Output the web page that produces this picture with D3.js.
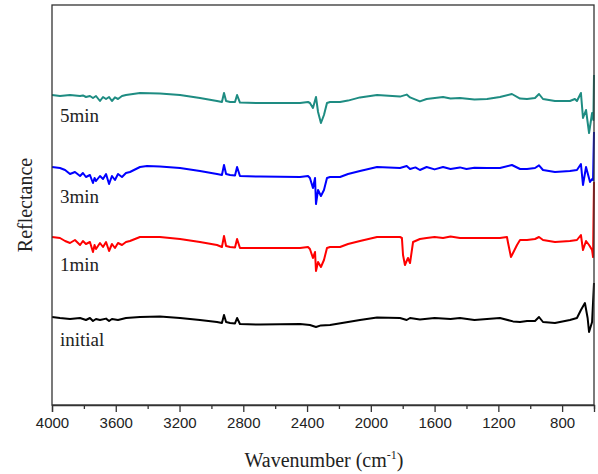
<head>
    <meta charset="utf-8">
    <title>Reflectance spectra</title>
    <script src="https://cdn.jsdelivr.net/npm/d3@7/dist/d3.min.js"></script>
</head>

<body style="margin:0">
<svg id="chart" width="598" height="474"></svg>

<script type="text/javascript">
    /// x tick labels
    const majorTicks = [4000, 3600, 3200, 2800, 2400, 2000, 1600, 1200, 800];
    const minorTicks = [3800, 3400, 3000, 2600, 2200, 1800, 1400, 1000, 600];

    /// [wavenumber, reflectance (offset, a.u.)]
    const min5 = [[4000,77.5],[3950,77.25],[3887,77.5],[3824,77.25],[3806,77.4],[3787,77],[3762,77.25],[3743,76.75],
        [3724,77.25],[3699,76],[3680,77],[3661,76.5],[3642,77],[3624,76],[3605,76.9],[3586,76.5],[3561,77.25],
        [3536,77.5],[3448,78],[3323,77.9],[3197,77.5],[3072,76.75],[2965,76],[2934,75.75],[2921,78],[2908,76],
        [2883,75.75],[2852,75.75],[2839,77.5],[2821,75.6],[2695,75.5],[2444,75.5],[2394,75.75],[2382,75.5],
        [2363,74.25],[2344,77],[2331,73.25],[2313,70.5],[2294,72.5],[2275,75.5],[2256,75.75],[2193,75.75],
        [2143,76.1],[2068,76.9],[1961,77.5],[1817,77.1],[1775,77.6],[1754,76.9],[1692,75.9],[1650,76.5],
        [1547,77],[1500,76.6],[1441,76.75],[1350,76.4],[1271,76.5],[1190,77],[1115,77.75],[1064,76.6],
        [1020,76.5],[970,76.75],[945,77.75],[920,76.5],[845,76],[751,76],[720,76.5],[707,76],[682,78],
        [669,71.75],[650,73.75],[631,68],[612,73],[604,71.25],[600,82.5]];

    const min3 = [[4000,59.5],[3950,59.25],[3918,58.75],[3887,57.75],[3856,58.25],[3824,57.25],[3806,58],[3787,57],
        [3762,57.5],[3743,55.5],[3733,56.75],[3724,56],[3699,57.25],[3680,56.5],[3661,57.75],[3642,55.25],
        [3624,57.25],[3605,56.25],[3586,57.75],[3561,57],[3536,58],[3511,58.25],[3448,59.5],[3404,59.75],
        [3323,59.6],[3197,59.25],[3072,58.5],[2965,57.75],[2934,57.5],[2921,60],[2908,57.75],[2883,57.5],
        [2852,57.4],[2839,59.5],[2821,57.25],[2695,57.1],[2444,57],[2394,57.25],[2382,56.75],[2363,54.25],
        [2350,56.75],[2344,50.25],[2331,53.75],[2313,52.25],[2294,53.75],[2275,56.75],[2256,57],[2193,57],
        [2143,57.75],[2068,58.5],[1961,59.5],[1817,59.25],[1775,59.75],[1754,59],[1720,59.4],[1692,58.75],
        [1650,59.5],[1600,58.9],[1547,59.5],[1500,59],[1441,59.4],[1400,59],[1350,59.3],[1271,59.25],
        [1190,59.25],[1115,60],[1064,59],[1020,59],[970,59.25],[945,59.9],[920,58.75],[845,58.25],[751,58.5],
        [707,58.75],[682,60.25],[669,55],[650,59.5],[625,55.75],[612,56.5],[606,56.25],[600,68.25]];

    const min1 = [[4000,42],[3950,41.75],[3918,41],[3887,40.5],[3856,41.25],[3824,40],[3806,41],[3787,40.25],
        [3762,40.75],[3743,38.25],[3733,40],[3724,39],[3699,40.5],[3680,39.5],[3661,40.75],[3642,38.5],
        [3624,40.25],[3605,39.25],[3586,40.5],[3561,40],[3536,40.75],[3511,41],[3448,42],[3323,42],
        [3197,41.5],[3072,40.75],[2965,40],[2934,39.5],[2921,42.25],[2908,39.75],[2883,39.5],[2852,39.4],
        [2839,41.5],[2821,39.25],[2695,39.25],[2444,39.25],[2394,39.5],[2382,39],[2363,36.75],[2350,38.25],
        [2344,33.5],[2331,35.75],[2313,34.5],[2294,36.25],[2275,39.25],[2256,39.5],[2193,39.5],[2143,40.25],
        [2068,41],[1961,42],[1817,42],[1805,41.75],[1798,37.5],[1786,35],[1767,36.75],[1754,35.5],
        [1735,40.75],[1692,41.5],[1650,41.75],[1600,42],[1547,41.75],[1500,42.1],[1441,41.75],[1350,41.75],
        [1271,41.75],[1190,41.75],[1146,42],[1139,40.5],[1121,37],[1108,38],[1083,40],[1064,41.25],
        [1020,41.25],[970,41.5],[945,42],[920,41.25],[845,40.75],[751,41],[707,41.25],[682,42.5],
        [669,38.75],[650,41],[631,40],[612,38.75],[606,37],[600,55.75]];

    const initial = [[4000,22],[3950,21.75],[3887,21.5],[3824,21.75],[3787,21.25],[3762,21.75],[3743,21],
        [3724,21.5],[3699,21.25],[3661,21.6],[3642,21],[3624,21.5],[3586,21.25],[3536,21.75],[3448,22],
        [3323,22.1],[3197,21.75],[3072,21.25],[2965,20.75],[2934,20.5],[2921,22.5],[2908,20.75],[2883,20.5],
        [2852,20.4],[2839,21.75],[2821,20.25],[2695,20.1],[2444,20.25],[2382,20],[2344,19.5],[2313,19.9],
        [2256,20],[2143,20.75],[2068,21.25],[1961,21.9],[1817,21.75],[1775,21.25],[1754,21.75],[1692,21.4],
        [1600,21.75],[1500,21.5],[1441,21.75],[1350,21.25],[1271,21.5],[1190,21.75],[1108,20.9],[1064,20.75],
        [1020,21],[970,21],[945,22],[920,20.75],[845,20.5],[751,21.25],[707,21.75],[682,23.75],[657,25.5],
        [640,21.75],[631,18.25],[612,20.75],[600,30.5]];

    const seriesNames = ['initial', '1min', '3min', '5min'];
    const seriesData = [initial, min1, min3, min5];
    const seriesColors = ['#000000', '#ff0000', '#0000ff', '#1e8c82'];
    const labelLevels = [14.75, 33.5, 50.5, 70.75]; /// where each label sits (same units as reflectance)

    const margin = {left: 52, right: 4, top: 5, bottom: 69};
    const W = 598, H = 474;

    const svg = d3.select('#chart');

    const x = d3.scaleLinear()
        .domain([4000, 600])
        .range([margin.left, W - margin.right]);
    const y = d3.scaleLinear()
        .domain([0, 100])
        .range([H - margin.bottom, margin.top]);

    /// curves
    const line = d3.line()
        .x(d => x(d[0]))
        .y(d => y(d[1]));

    svg.selectAll('path.spec')
        .data(seriesData)
        .join('path')
        .attr('class', 'spec')
        .attr('fill', 'none')
        .attr('stroke', (d, i) => seriesColors[i])
        .attr('stroke-width', 2)
        .attr('stroke-linejoin', 'round')
        .attr('d', line);

    /// frame
    svg.append('rect')
        .attr('x', x(4000))
        .attr('y', y(100))
        .attr('width', x(600) - x(4000))
        .attr('height', y(0) - y(100))
        .attr('fill', 'none')
        .attr('stroke', '#333')
        .attr('stroke-width', 1.3);

    /// x axis, major + minor ticks
    const xAxis = svg.append('g')
        .attr('transform', `translate(0, ${y(0)})`)
        .call(d3.axisBottom(x).tickValues(majorTicks).tickSize(7).tickPadding(5).tickFormat(d3.format('d')));
    xAxis.select('.domain').attr('stroke', '#333').attr('stroke-width', 1.3);
    xAxis.selectAll('.tick line').attr('stroke', '#333').attr('stroke-width', 1.3);
    xAxis.selectAll('.tick text')
        .style('font-family', '"Liberation Sans", Arial, sans-serif')
        .style('font-size', '15px')
        .attr('fill', '#222');

    svg.append('g')
        .attr('transform', `translate(0, ${y(0)})`)
        .call(d3.axisBottom(x).tickValues(minorTicks).tickSize(4).tickFormat(''))
        .call(g => g.select('.domain').remove())
        .selectAll('.tick line').attr('stroke', '#333').attr('stroke-width', 1.3);

    /// series labels
    svg.selectAll('text.lbl')
        .data(seriesNames)
        .join('text')
        .attr('class', 'lbl')
        .attr('x', x(4000) + 8)
        .attr('y', (d, i) => y(labelLevels[i]))
        .style('font-family', '"Liberation Serif", "Times New Roman", serif')
        .style('font-size', '19px')
        .attr('fill', '#222')
        .text(d => d);

    /// axis titles
    const xt = svg.append('text')
        .attr('x', 324)
        .attr('y', 467)
        .attr('text-anchor', 'middle')
        .style('font-family', '"Liberation Serif", "Times New Roman", serif')
        .style('font-size', '20px')
        .attr('fill', '#222');
    xt.append('tspan').text('Wavenumber (cm');
    xt.append('tspan').attr('dy', -8).style('font-size', '12px').text('-1');
    xt.append('tspan').attr('dy', 8).text(')');

    svg.append('text')
        .attr('transform', 'translate(32, 205) rotate(-90)')
        .attr('text-anchor', 'middle')
        .style('font-family', '"Liberation Serif", "Times New Roman", serif')
        .style('font-size', '20px')
        .attr('fill', '#222')
        .text('Reflectance');
</script>
</body>
